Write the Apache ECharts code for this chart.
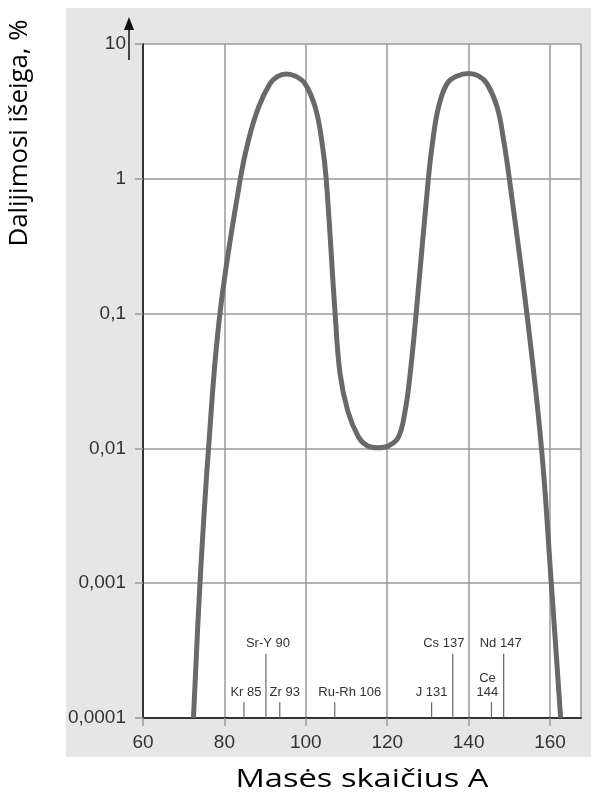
<!DOCTYPE html>
<html>
<head>
<meta charset="utf-8">
<script src="https://cdn.jsdelivr.net/npm/echarts@6/dist/echarts.min.js"></script>
<style>
html,body{margin:0;padding:0;background:#fff;}
#chart{width:591px;height:794px;}
</style>
</head>
<body>
<div id="chart"></div>
<script>
// Mass number A
const massNumbers = [72.4, 74.0, 76.1, 78.9, 83.9, 85.9, 88.4, 91.2, 93.0, 95.2, 97.5, 99.8, 102.3, 103.9, 105.0, 107.2, 108.4, 110.3, 112.9, 115.0, 117.8, 120.5, 122.8, 124.4, 125.6, 127.1, 130.1, 131.2, 132.6, 134.7, 137.2, 140.0, 142.4, 144.5, 147.0, 148.6, 150.0, 154.3, 157.9, 160.3, 162.6];
// Fission yield, %
const yields = [0.0001, 0.001, 0.01, 0.1, 1, 1.93, 3.4, 5.08, 5.73, 6.0, 5.77, 5.08, 3.4, 1.93, 1, 0.1, 0.036, 0.019, 0.0122, 0.0105, 0.0101, 0.0105, 0.0122, 0.019, 0.035, 0.1, 1, 1.93, 3.4, 5.08, 5.8, 6.05, 5.8, 5.08, 3.4, 1.93, 1, 0.1, 0.01, 0.001, 0.0001];

// Isotope markers
const isotopeNames = ['Kr 85', 'Sr-Y 90', 'Zr 93', 'Ru-Rh 106', 'J 131', 'Cs 137', 'Ce\n144', 'Nd 147'];
const isotopePositions = [84.8, 90.2, 93.6, 107.1, 130.9, 136.1, 145.6, 148.6];
const isotopeHeights = [0.000131, 0.0003, 0.000131, 0.000131, 0.000131, 0.0003, 0.000131, 0.0003];

// Tick labels
const xTickLabels = ['60', '80', '100', '120', '140', '160'];
const yTickLabels = ['0,0001', '0,001', '0,01', '0,1', '1', '10'];

// label x-offsets (layout only)
const isoLabelShift = [2, 2, 5, 15, 0, -9, -4, -3];

const X_TITLE = 'Masės skaičius A';
const Y_TITLE = 'Dalijimosi išeiga, %';
const TITLE_FONT = '25px "Open Sans"';
const mctx = document.createElement('canvas').getContext('2d');
mctx.font = TITLE_FONT;
const xTitleScale = 253 / mctx.measureText(X_TITLE).width;
const yTitleScale = 227 / mctx.measureText(Y_TITLE).width;

const chart = echarts.init(document.getElementById('chart'), null, {renderer: 'canvas'});

const curve = massNumbers.map((a, i) => [a, yields[i]]);
const iso = isotopePositions.map((a, i) => [a, isotopeHeights[i], i]);

const option = {
  animation: false,
  backgroundColor: '#ffffff',
  grid: {left: 143, top: 44, right: 10, bottom: 76, show: true, backgroundColor: '#ffffff', borderWidth: 0},
  graphic: [
    {type: 'rect', z: -10, shape: {x: 66, y: 8, width: 525, height: 749}, style: {fill: '#e6e6e6'}},
    {type: 'line', z: 10, shape: {x1: 129, y1: 60, x2: 129, y2: 28}, style: {stroke: '#111', lineWidth: 1.5}},
    {type: 'polygon', z: 10, shape: {points: [[124, 30], [134, 30], [129, 17]]}, style: {fill: '#111'}},
    {type: 'text', z: 10, x: 362, y: 780, scaleX: xTitleScale, style: {text: X_TITLE, font: TITLE_FONT, fill: '#000', align: 'center', verticalAlign: 'middle'}},
    {type: 'text', z: 10, x: 20, y: 133, rotation: Math.PI / 2, scaleX: yTitleScale, style: {text: Y_TITLE, font: TITLE_FONT, fill: '#000', align: 'center', verticalAlign: 'middle'}}
  ],
  xAxis: {
    type: 'value', min: 60, max: 167.6, interval: 20,
    axisLine: {show: true, onZero: false, lineStyle: {color: '#333', width: 2}},
    axisTick: {show: true, length: 8, lineStyle: {color: '#9a9a9a', width: 1.5}},
    splitLine: {show: true, lineStyle: {color: '#9a9a9a', width: 1.5}},
    axisLabel: {
      margin: 15, fontSize: 19, color: '#333', fontFamily: 'Liberation Sans',
      showMaxLabel: false,
      formatter: v => { const i = Math.round((v - 60) / 20); return (Math.abs(v - (60 + 20 * i)) < 1e-6 && xTickLabels[i]) ? xTickLabels[i] : ''; }
    }
  },
  yAxis: {
    type: 'log', logBase: 10, min: 0.0001, max: 10,
    axisLine: {show: true, lineStyle: {color: '#333', width: 2}},
    axisTick: {show: true, length: 8, lineStyle: {color: '#9a9a9a', width: 1.5}},
    splitLine: {show: true, lineStyle: {color: '#9a9a9a', width: 1.5}},
    minorTick: {show: false},
    axisLabel: {
      margin: 17, fontSize: 19, color: '#333', fontFamily: 'Liberation Sans',
      formatter: v => yTickLabels[Math.round(Math.log10(v)) + 4] || ''
    }
  },
  series: [
    {
      type: 'line', data: curve, smooth: 0.4, symbol: 'none', clip: true,
      lineStyle: {color: '#696969', width: 5}, z: 5
    },
    {
      type: 'custom', data: iso, z: 4,
      renderItem: function (params, api) {
        const x = api.value(0), top = api.value(1), idx = api.value(2);
        const p0 = api.coord([x, 0.0001]);
        const p1 = api.coord([x, top]);
        return {
          type: 'group',
          children: [
            {type: 'line', shape: {x1: p0[0], y1: p0[1], x2: p1[0], y2: p1[1]}, style: {stroke: '#666', lineWidth: 1.2}},
            {type: 'text', style: {text: isotopeNames[idx], x: p1[0] + isoLabelShift[idx], y: p1[1] - 3, align: 'center', verticalAlign: 'bottom', font: '13px "Liberation Sans"', fill: '#333', lineHeight: 14}}
          ]
        };
      }
    }
  ]
};
chart.setOption(option);
</script>
</body>
</html>
